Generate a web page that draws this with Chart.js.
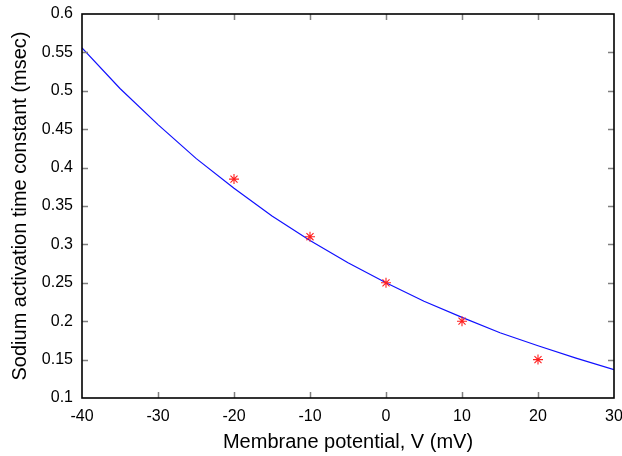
<!DOCTYPE html>
<html>
<head>
<meta charset="utf-8">
<script src="https://cdn.jsdelivr.net/npm/chart.js@4/dist/chart.umd.min.js"></script>
<style>
html,body{margin:0;padding:0;background:#fff;}
#wrap{width:622px;height:456px;}
</style>
</head>
<body>
<div id="wrap"><canvas id="c" width="622" height="456"></canvas></div>
<script>
// Fitted curve (blue line)
const curveV = [-40, -35, -30, -25, -20, -15, -10, -5, 0, 5, 10, 15, 20, 25, 30];
const curveTau = [0.556, 0.503, 0.456, 0.412, 0.373, 0.337, 0.305, 0.276, 0.250, 0.226, 0.205, 0.185, 0.168, 0.152, 0.137];
// Measured data (red stars)
const dataV = [-20, -10, 0, 10, 20];
const dataTau = [0.385, 0.31, 0.25, 0.2, 0.15];
// Axis ticks
const xTicks = [-40, -30, -20, -10, 0, 10, 20, 30];
const yTicks = [0.1, 0.15, 0.2, 0.25, 0.3, 0.35, 0.4, 0.45, 0.5, 0.55, 0.6];

const FONT = "'Liberation Sans', Arial, Helvetica, sans-serif";

const inwardTicks = {
  id: 'inwardTicks',
  afterDatasetsDraw(chart) {
    const {ctx, chartArea: a, scales: {x, y}} = chart;
    ctx.save();
    ctx.strokeStyle = '#808080';
    ctx.lineWidth = 1.5;
    const L = 6;
    ctx.beginPath();
    xTicks.forEach(v => {
      const px = Math.round(x.getPixelForValue(v)) + 0.5;
      if (v === xTicks[0] || v === xTicks[xTicks.length - 1]) return;
      ctx.moveTo(px, a.bottom); ctx.lineTo(px, a.bottom - L);
      ctx.moveTo(px, a.top); ctx.lineTo(px, a.top + L);
    });
    yTicks.forEach(v => {
      const py = Math.round(y.getPixelForValue(v)) + 0.5;
      if (v === yTicks[0] || v === yTicks[yTicks.length - 1]) return;
      ctx.moveTo(a.left, py); ctx.lineTo(a.left + L, py);
      ctx.moveTo(a.right, py); ctx.lineTo(a.right - L, py);
    });
    ctx.stroke();
    ctx.strokeStyle = '#000';
    ctx.lineWidth = 1.6;
    ctx.strokeRect(a.left, a.top, a.right - a.left, a.bottom - a.top);
    ctx.restore();
  }
};

new Chart(document.getElementById('c'), {
  type: 'scatter',
  data: {
    datasets: [
      {
        label: 'fit',
        data: curveV.map((v, i) => ({x: v, y: curveTau[i]})),
        showLine: true,
        borderColor: '#1010ff',
        borderWidth: 1.2,
        pointRadius: 0,
        fill: false,
        tension: 0,
        order: 2
      },
      {
        label: 'data',
        data: dataV.map((v, i) => ({x: v, y: dataTau[i]})),
        showLine: false,
        pointStyle: 'star',
        pointRadius: 5,
        borderColor: '#ff2020',
        backgroundColor: '#ff2020',
        pointBorderWidth: 1.1,
        order: 1
      }
    ]
  },
  options: {
    responsive: false,
    animation: false,
    devicePixelRatio: 1,
    layout: {padding: {left: 0, right: 8, top: 14, bottom: 2}},
    plugins: {legend: {display: false}, tooltip: {enabled: false}},
    scales: {
      x: {
        type: 'linear',
        min: -40, max: 30,
        afterBuildTicks: s => { s.ticks = xTicks.map(v => ({value: v})); },
        afterFit: s => { s.height = 56; s.paddingLeft = 0; s.paddingRight = 0; },
        grid: {display: false, drawTicks: false},
        border: {display: false},
        ticks: {
          color: '#000', padding: 9,
          font: {family: FONT, size: 16},
          maxRotation: 0, autoSkip: false,
          callback: v => String(v)
        },
        title: {
          display: true, text: 'Membrane potential, V (mV)',
          color: '#000', font: {family: FONT, size: 20},
          padding: {top: 3, bottom: 0}
        }
      },
      y: {
        type: 'linear',
        min: 0.1, max: 0.6,
        afterBuildTicks: s => { s.ticks = yTicks.map(v => ({value: v})); },
        afterFit: s => { s.width = 82; s.paddingTop = 0; s.paddingBottom = 0; },
        grid: {display: false, drawTicks: false},
        border: {display: false},
        ticks: {
          color: '#000', padding: 9,
          font: {family: FONT, size: 16},
          autoSkip: false,
          callback: v => String(parseFloat(v.toFixed(2)))
        },
        title: {
          display: true, text: 'Sodium activation time constant (msec)',
          color: '#000', font: {family: FONT, size: 20},
          padding: {top: 8, bottom: 4}
        }
      }
    }
  },
  plugins: [inwardTicks]
});
</script>
</body>
</html>
